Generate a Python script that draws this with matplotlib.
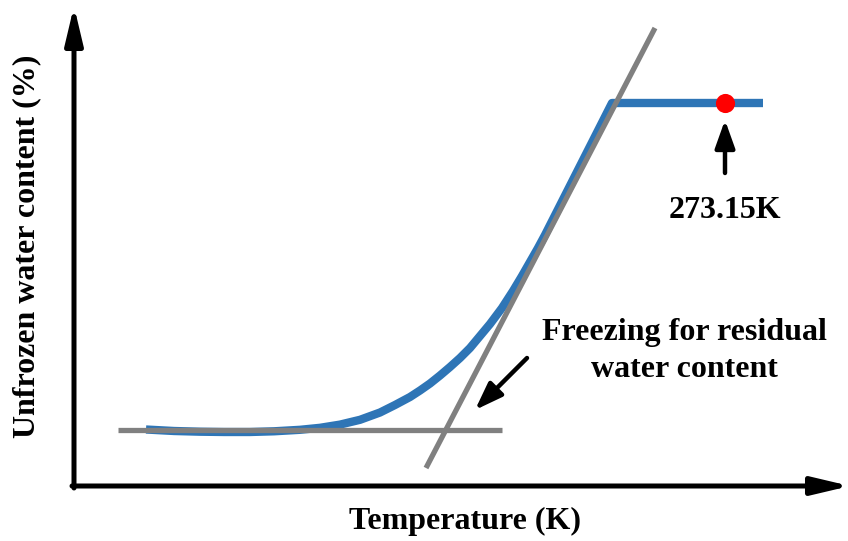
import numpy as np
import matplotlib.pyplot as plt

plt.rcParams['font.family'] = ['Liberation Serif', 'DejaVu Serif']
plt.rcParams['font.weight'] = 'bold'

# schematic freezing curve (arbitrary temperature / content units)
curve_t = [72, 100, 126, 150, 176, 200, 226, 246, 266, 286, 306, 321, 336, 346, 356,
           366, 376, 386, 396, 406, 416, 428, 439, 448, 456, 464, 471, 538, 689]
curve_w = [56.5, 55, 54.3, 54, 54, 54.7, 56.2, 58.2, 61.4, 66.2, 73.5, 81, 89, 95.5, 102.5,
           110.5, 119, 128, 138, 150, 162, 178, 195, 210, 224, 238, 251, 383, 383]

residual_t = [44, 428]
residual_w = [56, 56]

tangent_t = [352, 581]
tangent_w = [18, 458]

melt_t, melt_w = 651, 383
melt_label = "273.15K"
note_label = "Freezing for residual\nwater content"

fig = plt.figure(figsize=(8.48, 5.41), dpi=100)
ax = fig.add_axes([74 / 848, 55 / 541, 774 / 848, 478 / 541])
ax.set_xlim(0, 774)
ax.set_ylim(0, 478)
ax.axis('off')

# axes drawn as arrows
arrow_kw = dict(arrowstyle='-|>,head_length=1.9,head_width=0.45', lw=3.6,
                color='black', mutation_scale=12, shrinkA=0, shrinkB=0)
ax.annotate('', xy=(776, 0), xytext=(-2, 0), arrowprops=arrow_kw, annotation_clip=False)
ax.annotate('', xy=(0, 480), xytext=(0, -2), arrowprops=arrow_kw, annotation_clip=False)

ax.plot(curve_t, curve_w, color='#2E75B6', lw=6, solid_capstyle='butt',
        solid_joinstyle='round', zorder=2)
ax.plot(residual_t, residual_w, color='#808080', lw=3.8, solid_capstyle='butt', zorder=3)
ax.plot(tangent_t, tangent_w, color='#808080', lw=3.8, solid_capstyle='butt', zorder=3)

ax.scatter([melt_t], [melt_w], s=190, color='#FF0000', zorder=4, linewidths=0)

small_arrow = dict(arrowstyle='-|>,head_length=1.4,head_width=0.5', lw=3.2,
                   color='black', mutation_scale=12, shrinkA=0, shrinkB=0)
ax.annotate('', xy=(melt_t, melt_w - 17), xytext=(melt_t, melt_w - 70),
            arrowprops=small_arrow)
ax.text(melt_t, melt_w - 107, melt_label, ha='center', va='center', fontsize=23,
        fontweight='bold')

ax.annotate('', xy=(401, 76), xytext=(453, 128), arrowprops=small_arrow)
ax.text(610, 135, note_label, ha='center', va='center', fontsize=23,
        fontweight='bold', linespacing=1.35)

fig.text(465 / 848, 1 - 521 / 541, "Temperature (K)", ha='center', va='center',
         fontsize=23, fontweight='bold')
fig.text(27 / 848, 1 - 246 / 541, "Unfrozen water content (%)", ha='center', va='center',
         rotation=90, fontsize=23, fontweight='bold')

fig.savefig('out.png', dpi=100)
